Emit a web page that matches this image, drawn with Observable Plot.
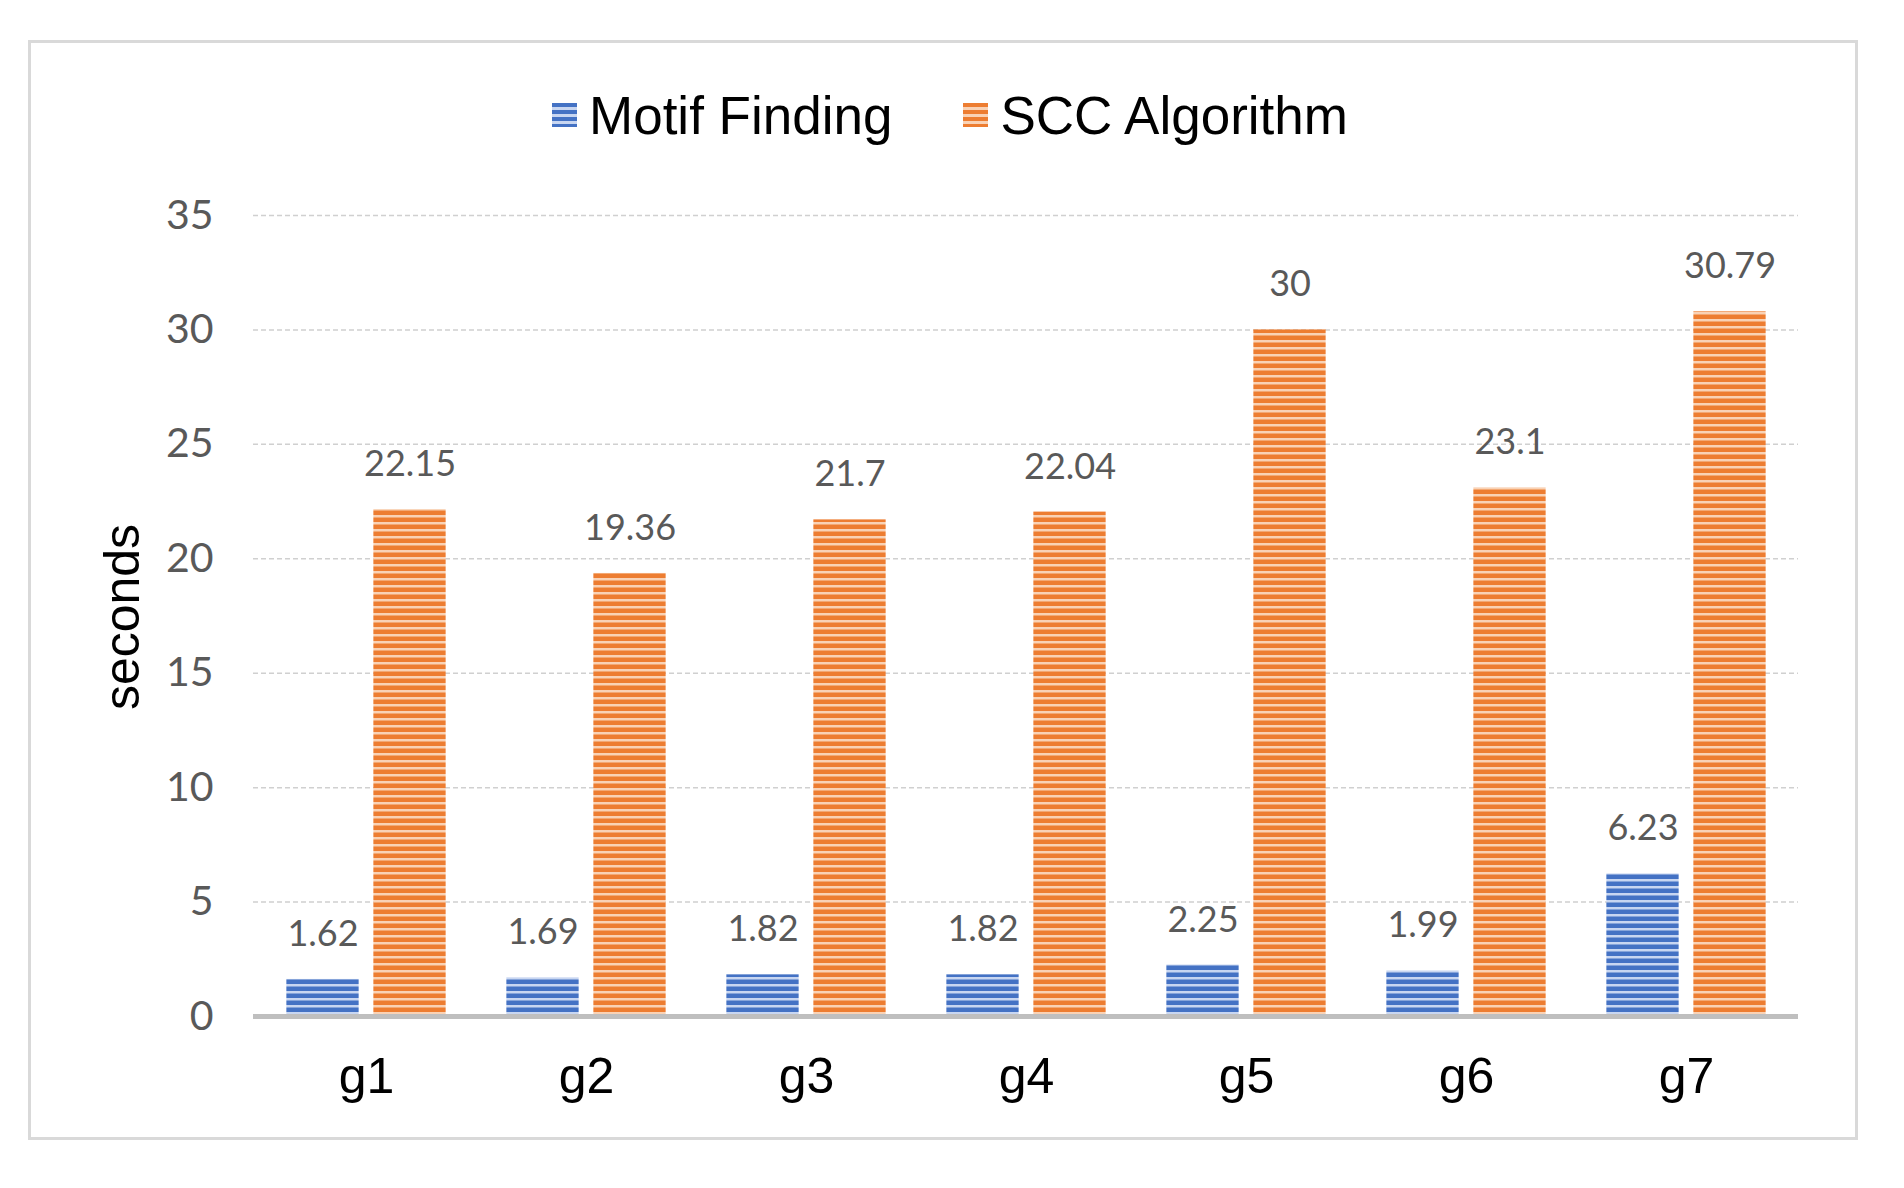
<!DOCTYPE html>
<html>
<head>
<meta charset="utf-8">
<script src="https://cdn.jsdelivr.net/npm/d3@7"></script>
<script src="https://cdn.jsdelivr.net/npm/@observablehq/plot@0.6"></script>
<style>
  html, body { margin: 0; padding: 0; background: #fff; }
  #wrap { position: relative; width: 1904px; height: 1188px; overflow: hidden; background: #fff; }
  #frame { position: absolute; left: 28px; top: 40px; width: 1824px; height: 1094px; border: 3px solid #d9d9d9; box-sizing: content-box; }
  #chart { position: absolute; left: 0; top: 0; }
  #legend { position: absolute; left: 552px; top: 85px; height: 60px; display: flex; align-items: center;
            font-family: "Liberation Sans", Arial, sans-serif; font-size: 53px; color: #000; white-space: nowrap; }
  .item { display: flex; align-items: center; }
  .sw { width: 25px; height: 24px; margin-right: 12px; }
  #ytitle { position: absolute; left: 122px; top: 617px; transform: translate(-50%, -50%) rotate(-90deg);
            font-family: "Liberation Sans", Arial, sans-serif; font-size: 50px; color: #000; white-space: nowrap; }
</style>
</head>
<body>
<div id="wrap">
  <div id="frame"></div>
  <div id="chart"></div>
  <div id="legend"></div>
  <div id="ytitle">seconds</div>
</div>
<script>
// ---- data ----
const categories = ["g1", "g2", "g3", "g4", "g5", "g6", "g7"];
const seriesNames = ["Motif Finding", "SCC Algorithm"];
const motifFinding = [1.62, 1.69, 1.82, 1.82, 2.25, 1.99, 6.23];
const sccAlgorithm = [22.15, 19.36, 21.7, 22.04, 30, 23.1, 30.79];
const yTicks = [0, 5, 10, 15, 20, 25, 30, 35];

// ---- styles ----
const colors = {
  "Motif Finding": { dark: "#4472C4", light: "#c8d6f1", pat: "patBlue" },
  "SCC Algorithm": { dark: "#ED7D31", light: "#f9d2b5", pat: "patOrange" }
};

const motifRows = categories.map((c, i) => ({ cat: c, series: seriesNames[0], value: motifFinding[i] }));
const sccRows = categories.map((c, i) => ({ cat: c, series: seriesNames[1], value: sccAlgorithm[i] }));

const W = 1904, H = 1188;
const mL = 253, mR = 106, mT = 215, mB = 172;
const band = (W - mL - mR) / categories.length;
const half = band / 2;
const barOuter = 80, barInner = 7;

const chart = Plot.plot({
  width: W,
  height: H,
  marginLeft: mL,
  marginRight: mR,
  marginTop: mT,
  marginBottom: mB,
  style: { background: "transparent", overflow: "visible" },
  x: { domain: categories, padding: 0 },
  y: { domain: [0, 35] },
  marks: [
    Plot.ruleY(yTicks.filter(d => d > 0), { stroke: "#d0d0d0", strokeWidth: 1.5, strokeDasharray: "5,3" }),
    Plot.barY(motifRows, { x: "cat", y: "value", fill: "url(#patBlue)",
      insetLeft: half - barOuter, insetRight: half + barInner }),
    Plot.barY(sccRows, { x: "cat", y: "value", fill: "url(#patOrange)",
      insetLeft: half + barInner, insetRight: half - barOuter }),
    Plot.ruleY([0], { stroke: "#bfbfbf", strokeWidth: 5 }),
    Plot.text(motifRows, { x: "cat", y: "value", text: d => String(d.value), dx: -(barOuter + barInner) / 2, dy: -45,
      lineAnchor: "middle", fontSize: 36, fontFamily: "Lato, 'Open Sans', sans-serif", fill: "#595959" }),
    Plot.text(sccRows, { x: "cat", y: "value", text: d => String(d.value), dx: (barOuter + barInner) / 2, dy: -45,
      lineAnchor: "middle", fontSize: 36, fontFamily: "Lato, 'Open Sans', sans-serif", fill: "#595959" }),
    Plot.axisY({ ticks: yTicks, tickSize: 0, tickPadding: 40, label: null, fontSize: 41,
      fontFamily: "Lato, 'Open Sans', sans-serif", color: "#595959" }),
    Plot.axisX({ tickSize: 0, tickPadding: 41, label: null, fontSize: 50,
      fontFamily: "'Liberation Sans', Arial, sans-serif", color: "#000" })
  ]
});

const defs = d3.select(chart).insert("defs", ":first-child");
for (const s of seriesNames) {
  const c = colors[s];
  const p = defs.append("pattern").attr("id", c.pat).attr("patternUnits", "userSpaceOnUse")
    .attr("width", 8).attr("height", 7);
  p.append("rect").attr("width", 8).attr("height", 7).attr("fill", c.dark);
  p.append("rect").attr("y", 4).attr("width", 8).attr("height", 2.5).attr("fill", c.light);
}
document.getElementById("chart").appendChild(chart);

// ---- legend ----
const legend = d3.select("#legend");
seriesNames.forEach((s, i) => {
  const c = colors[s];
  const it = legend.append("div").attr("class", "item").style("margin-right", i === 0 ? "71px" : "0px");
  it.append("div").attr("class", "sw")
    .style("background", `repeating-linear-gradient(to bottom, ${c.dark} 0px, ${c.dark} 4px, ${c.light} 4px, ${c.light} 6.5px, ${c.dark} 6.5px, ${c.dark} 7px)`);
  it.append("span").text(s);
});
</script>
</body>
</html>
